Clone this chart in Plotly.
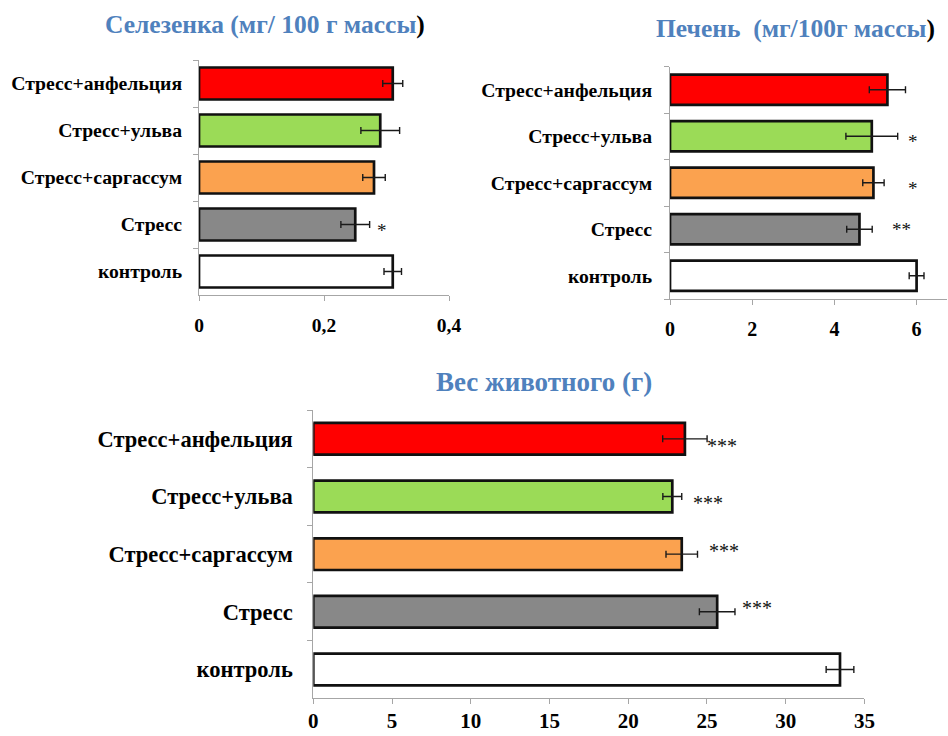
import plotly.graph_objects as go

# Groups, listed bottom-up as they appear on each horizontal bar chart
groups = ["контроль", "Стресс", "Стресс+саргассум", "Стресс+ульва", "Стресс+анфельция"]
group_colors = ["#FFFFFF", "#888888", "#FBA24F", "#9BDB57", "#FF0000"]

# Spleen mass, mg per 100 g body mass
spleen_mean = [0.31, 0.25, 0.28, 0.29, 0.31]
spleen_err = [0.014, 0.023, 0.018, 0.031, 0.016]
spleen_marks = {"Стресс": ("*", 0.293, -6)}

# Liver mass, mg per 100 g body mass
liver_mean = [6.0, 4.61, 4.95, 4.91, 5.29]
liver_err = [0.18, 0.31, 0.26, 0.63, 0.44]
liver_marks = {
    "Стресс+ульва": ("*", 5.91, -5),
    "Стресс+саргассум": ("*", 5.91, -6),
    "Стресс": ("**", 5.64, 0),
}

# Body weight, g
weight_mean = [33.45, 25.65, 23.4, 22.8, 23.6]
weight_err = [0.88, 1.13, 1.0, 0.6, 1.41]
weight_marks = {
    "Стресс+анфельция": ("***", 25.95, -7),
    "Стресс+ульва": ("***", 25.05, -7),
    "Стресс+саргассум": ("***", 26.08, 3),
    "Стресс": ("***", 28.17, 4),
}

SERIF = "Liberation Serif"
TITLE_BLUE = "#4F81BD"
AXIS_GREY = "#A6A6A6"


def bold(s):
    return "<b>" + s + "</b>"


fig = go.Figure()

panels = [
    # values, errors, marks, axis suffix, bar width, error cap, star size
    (spleen_mean, spleen_err, spleen_marks, "", 0.68, 3.5, 19),
    (liver_mean, liver_err, liver_marks, "2", 0.65, 3.5, 19),
    (weight_mean, weight_err, weight_marks, "3", 0.55, 3.5, 20),
]

for vals, errs, marks, sfx, bw, cap, star in panels:
    fig.add_trace(go.Bar(
        x=vals, y=groups, orientation="h", width=bw,
        marker=dict(color=group_colors, line=dict(color="#111111", width=2.7)),
        error_x=dict(type="data", array=errs, visible=True, color="#1a1a1a",
                     thickness=1.4, width=cap),
        xaxis="x" + sfx, yaxis="y" + sfx, showlegend=False, hoverinfo="skip",
    ))
    for grp, (txt, xpos, ysh) in marks.items():
        fig.add_annotation(
            x=xpos, y=grp, xref="x" + sfx, yref="y" + sfx, text=txt,
            showarrow=False, xanchor="center", yanchor="middle", yshift=ysh,
            font=dict(family=SERIF, size=star, color="#111111"),
        )


def xaxis(domain, rng, tickvals, ticktext, size, standoff):
    return dict(
        domain=domain, range=rng, tickvals=tickvals, ticktext=[bold(t) for t in ticktext],
        showline=True, linecolor=AXIS_GREY, linewidth=1, showgrid=False, zeroline=False,
        ticks="outside", ticklen=5, tickcolor=AXIS_GREY, automargin=False,
        tickfont=dict(family=SERIF, size=size, color="#000000"),
        ticklabelstandoff=standoff, fixedrange=True,
    )


def yaxis(domain, anchor, size, standoff):
    return dict(
        domain=domain, anchor=anchor, type="category", categoryorder="array",
        categoryarray=groups, range=[-0.5, 4.5],
        tickvals=groups, ticktext=[bold(g) for g in groups],
        showline=True, linecolor=AXIS_GREY, linewidth=1, showgrid=False,
        ticks="outside", ticklen=5, tickcolor=AXIS_GREY, tickson="boundaries",
        automargin=False,
        tickfont=dict(family=SERIF, size=size, color="#000000"),
        ticklabelstandoff=standoff, fixedrange=True,
    )


W, H = 948, 736


def dom_x(a, b):
    return [a / W, b / W]


def dom_y(top, bottom):
    return [1 - bottom / H, 1 - top / H]


fig.update_layout(
    width=W, height=H, margin=dict(l=0, r=0, t=0, b=0, autoexpand=False),
    paper_bgcolor="white", plot_bgcolor="white", barmode="overlay",
    font=dict(family=SERIF),
    xaxis=xaxis(dom_x(199, 449), [0, 0.4], [0, 0.2, 0.4], ["0", "0,2", "0,4"], 19.5, 8),
    yaxis=yaxis(dom_y(60, 295), "x", 19.7, 12),
    xaxis2=xaxis(dom_x(670, 947), [0, 6.74], [0, 2, 4, 6], ["0", "2", "4", "6"], 20, 7),
    yaxis2=yaxis(dom_y(66.5, 299), "x2", 19.7, 13),
    xaxis3=xaxis(dom_x(313.3, 864.4), [0, 35], [0, 5, 10, 15, 20, 25, 30, 35],
                 ["0", "5", "10", "15", "20", "25", "30", "35"], 21, -2),
    yaxis3=yaxis(dom_y(410, 698.3), "x3", 22.5, 15),
)
fig.update_layout(xaxis=dict(anchor="y"), xaxis2=dict(anchor="y2"), xaxis3=dict(anchor="y3"))

# Panel titles; the closing bracket of the two organ titles is black
titles = [
    (f"<span style='color:{TITLE_BLUE}'>Селезенка (мг/ 100 г массы</span>)", 265, 25, 25.5),
    (f"<span style='color:{TITLE_BLUE}'>Печень\u00a0 (мг/100г массы</span>)", 795, 28, 25.5),
    (f"<span style='color:{TITLE_BLUE}'>Вес животного (г)</span>", 544, 382, 27),
]
for txt, cx, cy, size in titles:
    fig.add_annotation(
        x=cx / W, y=1 - cy / H, xref="paper", yref="paper", text=bold(txt),
        showarrow=False, xanchor="center", yanchor="middle",
        font=dict(family=SERIF, size=size, color="#000000"),
    )

fig.write_html("out.html")
